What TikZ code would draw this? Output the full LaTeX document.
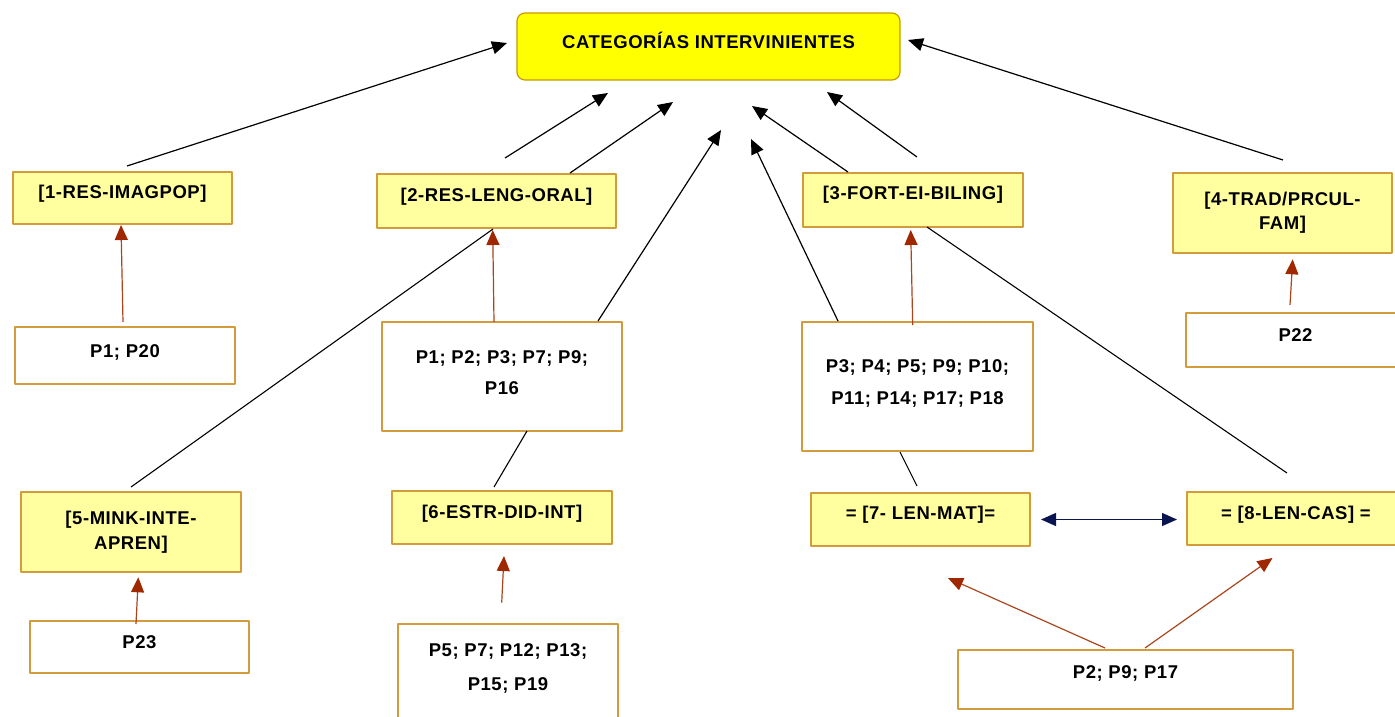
\documentclass[tikz,border=0pt]{standalone}
\usepackage{fontspec}
\setmainfont{Liberation Sans}[LetterSpace=3]
\usetikzlibrary{arrows.meta}

\definecolor{boxfill}{RGB}{255,255,160}
\definecolor{boxline}{RGB}{210,155,60}
\definecolor{titlefill}{RGB}{255,255,0}
\definecolor{titleline}{RGB}{200,155,0}
\definecolor{linkred}{RGB}{170,70,30}
\definecolor{headred}{RGB}{160,40,0}
\definecolor{navyblue}{RGB}{10,20,80}

% box given by its left, top, right, bottom edges and the baseline of its (last) text line
\newcommand\boxnode[8]{%
  \pgfmathsetmacro\bw{#5-#3}%
  \pgfmathsetmacro\bh{#7-#4}%
  \pgfmathsetmacro\bd{#6-#7}%
  \node[#2, anchor=north west, minimum width=\bw pt, text height=\bh pt, text depth=\bd pt] (#1) at (#3,#4) {#8};}

% two centred lines with a given baseline distance
\newcommand\twoline[3]{\vbox{\baselineskip=#1pt\lineskiplimit=-100pt\halign{\hfil##\hfil\cr#2\cr#3\cr}}}

\tikzset{
  anybox/.style={inner sep=0pt, outer sep=0pt, line width=1.1pt,
    font=\bfseries\fontsize{18.5}{22}\selectfont},
  catbox/.style={anybox, draw=boxline, fill=boxfill},
  refbox/.style={anybox, draw=boxline, fill=white},
  titlebox/.style={anybox, draw=titleline, fill=titlefill, rounded corners=8pt,
    line width=1.2pt},
  toTitle/.style={draw=black, line width=1.2pt, -{Triangle[length=15pt,width=13pt]}},
  feeds/.style={draw=linkred, line width=1.2pt, -{Triangle[length=15pt,width=13pt,color=headred]}},
  joins/.style={draw=black, line width=1.1pt},
  mutual/.style={draw=navyblue, line width=1.2pt,
    {Triangle[length=15pt,width=13pt]}-{Triangle[length=15pt,width=13pt]}},
}

\begin{document}
\begin{tikzpicture}[x=1pt, y=-1pt, line join=round]
\clip (0,0) rectangle (1395,716);
\fill[white] (0,0) rectangle (1395,716);

% central category
\boxnode{t}{titlebox}{517}{13}{900}{80}{48.5}{CATEGORÍAS INTERVINIENTES}

% categories and their references
\boxnode{b1}{catbox}{13}{172}{232}{224}{198.5}{[1-RES-IMAGPOP]}
\boxnode{p1}{refbox}{15}{327}{235}{384}{357.5}{P1; P20}

\boxnode{b2}{catbox}{377}{174}{616}{228}{201.5}{[2-RES-LENG-ORAL]}
\boxnode{p2}{refbox}{382}{322}{622}{431}{394.5}{\twoline{31}{P1; P2; P3; P7; P9;}{P16}}

\boxnode{b3}{catbox}{803}{173}{1023}{227}{199.5}{[3-FORT-EI-BILING]}
\boxnode{p3}{refbox}{802}{322}{1033}{451}{404.5}{\twoline{32}{P3; P4; P5; P9; P10;}{P11; P14; P17; P18}}

\boxnode{b4}{catbox}{1173}{173}{1392}{253}{229}{\twoline{23.5}{[4-TRAD/PRCUL-}{FAM]}}
\boxnode{p4}{refbox}{1186}{313}{1405}{367}{341.5}{P22}

\boxnode{b5}{catbox}{21}{492}{241}{572}{549}{\twoline{25}{[5-MINK-INTE-}{APREN]}}
\boxnode{p5}{refbox}{30}{621}{249}{673}{648.5}{P23}

\boxnode{b6}{catbox}{392}{491}{612}{544}{518.5}{[6-ESTR-DID-INT]}
\boxnode{p6}{refbox}{398}{624}{618}{725}{690}{\twoline{34}{P5; P7; P12; P13;}{P15; P19}}

\boxnode{b7}{catbox}{811}{493}{1030}{546}{519.5}{= [7- LEN-MAT]=}
\boxnode{b8}{catbox}{1187}{492}{1405}{545}{519.5}{= [8-LEN-CAS] =}
\boxnode{p7}{refbox}{958}{650}{1293}{709}{678.5}{P2; P9; P17}

% links to the central category
\draw[toTitle] ([xshift=4.5pt,yshift=6pt]b1.north) -- ([xshift=-10pt,yshift=3.5pt]t.west);
\draw[toTitle] ([xshift=8.5pt,yshift=16pt]b2.north) -- ([xshift=-100.5pt,yshift=-13pt]t.south);
\draw[toTitle] ([xshift=73.5pt,yshift=1pt]b2.north) -- ([xshift=-35.5pt,yshift=-22pt]t.south);
\draw[toTitle] ([xshift=-24pt,yshift=1pt]p2.north east) -- ([xshift=12.5pt,yshift=-50pt]t.south);
\draw[toTitle] ([xshift=-79.5pt,yshift=1pt]p3.north) -- ([xshift=42.5pt,yshift=-59pt]t.south);
\draw[toTitle] ([xshift=-65pt,yshift=1pt]b3.north) -- ([xshift=43.5pt,yshift=-26pt]t.south);
\draw[toTitle] ([xshift=4pt,yshift=16pt]b3.north) -- ([xshift=118.5pt,yshift=-12pt]t.south);
\draw[toTitle] ([xshift=0.5pt,yshift=13pt]b4.north) -- ([xshift=8pt,yshift=6.5pt]t.east);

% references feeding each category
\draw[feeds] ([xshift=-2pt,yshift=5pt]p1.north) -- ([xshift=-1.5pt,yshift=-1pt]b1.south);
\draw[feeds] ([xshift=-8pt]p2.north) -- ([xshift=-3.8pt,yshift=-2pt]b2.south);
\draw[feeds] ([xshift=-4.8pt,yshift=-3pt]p3.north) -- ([xshift=-2.3pt,yshift=-3pt]b3.south);
\draw[feeds] ([xshift=-5.5pt,yshift=8pt]p4.north) -- ([xshift=10.2pt,yshift=-6.3pt]b4.south);
\draw[feeds] ([xshift=-3.5pt,yshift=-3pt]p5.north) -- ([xshift=7.3pt,yshift=-5.3pt]b5.south);
\draw[feeds] ([xshift=-6.3pt,yshift=21.3pt]p6.north) -- ([xshift=2pt,yshift=-12pt]b6.south);
\draw[feeds] ([xshift=-20.5pt,yshift=2pt]p7.north) -- ([xshift=27.5pt,yshift=-32pt]b7.south);
\draw[feeds] ([xshift=19.5pt,yshift=2pt]p7.north) -- ([xshift=-23.5pt,yshift=-13pt]b8.south);

% plain joins between boxes
\draw[joins] ([yshift=5pt]b5.north) -- ([xshift=-3.5pt,yshift=-1pt]b2.south);
\draw[joins] ([xshift=25pt]p2.south) -- ([xshift=-8pt,yshift=4pt]b6.north);
\draw[joins] ([xshift=-17.5pt,yshift=-1pt]p3.south) -- ([xshift=-3.5pt,yshift=7pt]b7.north);
\draw[joins] ([xshift=14pt]b3.south) -- ([xshift=-9pt,yshift=19pt]b8.north);

% two-way link between 7 and 8
\draw[mutual] ([xshift=11pt]b7.east) -- ([xshift=-10pt]b7.east -| b8.west);
\end{tikzpicture}
\end{document}
